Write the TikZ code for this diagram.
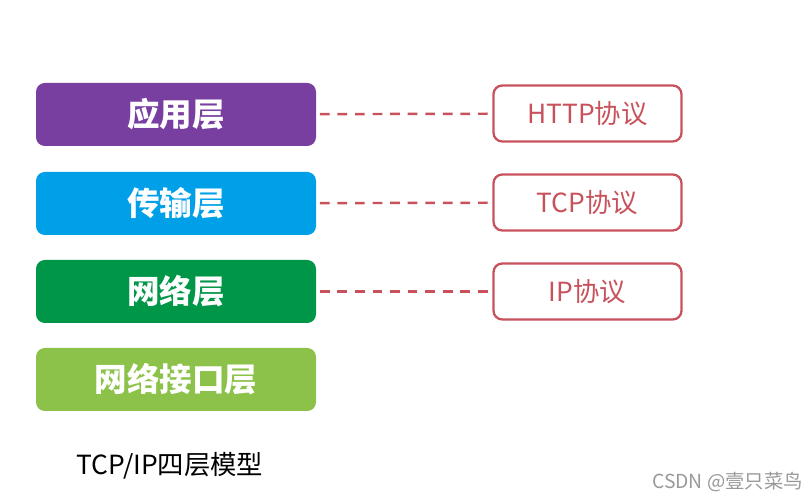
\documentclass[tikz,border=0pt]{standalone}
\usepackage{fontspec}
\setmainfont{Noto Sans CJK SC}
\definecolor{lpurple}{RGB}{120,62,160}
\definecolor{lblue}{RGB}{0,160,233}
\definecolor{lgreen}{RGB}{0,150,72}
\definecolor{llime}{RGB}{140,194,74}
\definecolor{pred}{RGB}{200,82,92}
\tikzset{
  layer/.style={rectangle, rounded corners=5pt, minimum width=5.6cm, minimum height=1.26cm,
    text=white, font=\fontsize{18.5}{20}\selectfont\bfseries},
  proto/.style={rectangle, rounded corners=5pt, draw=pred, line width=1.3pt, minimum width=3.76cm,
    minimum height=1.12cm, text=pred, font=\fontsize{15}{18}\selectfont},
  link/.style={pred, dash pattern=on 5.5pt off 4.5pt, dash phase=-2pt, line width=1.4pt}
}
\begin{document}
\begin{tikzpicture}
\useasboundingbox (0,0) rectangle (16.22,10);
\node[layer, fill=lpurple] (lay0) at (3.52,7.71){应用层};
\node[layer, fill=lblue] (lay1) at (3.52,5.93){传输层};
\node[layer, fill=lgreen] (lay2) at (3.52,4.17){网络层};
\node[layer, fill=llime] (lay3) at (3.52,2.41){网络接口层};
\node[proto] (pro0) at (11.75,7.73){HTTP协议};
\node[proto] (pro1) at (11.75,5.95){TCP协议};
\node[proto] (pro2) at (11.75,4.17){IP协议};
\draw[link](lay0) -- (pro0);
\draw[link](lay1) -- (pro1);
\draw[link](lay2) -- (pro2);
\node[font=\fontsize{15}{18}\selectfont] (cap) at (3.4,0.68){TCP/IP四层模型};
\node[font=\fontsize{11}{13}\selectfont, text=black!40] (mark) at (14.55,0.35){CSDN @壹只菜鸟};
\end{tikzpicture}
\end{document}
